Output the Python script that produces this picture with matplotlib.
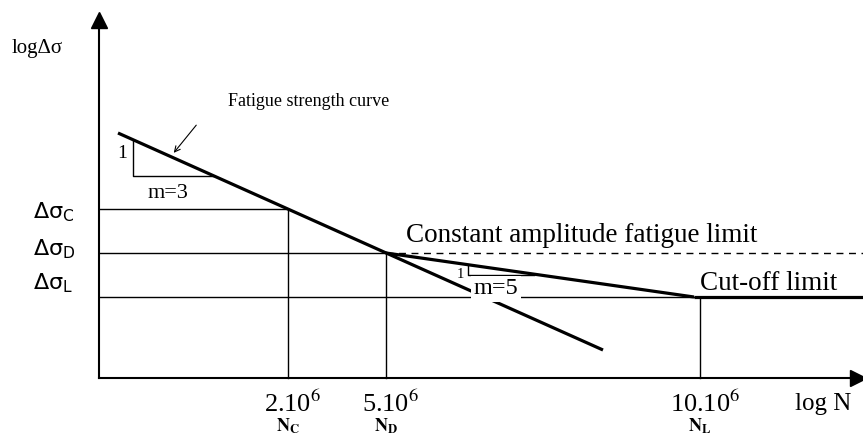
import matplotlib.pyplot as plt

''' schematic fatigue strength curve (log N vs log delta sigma)
axis units are arbitrary, the picture is not to scale
'''

# cycle counts marked on the N axis
n_names = ['C', 'D', 'L']
n_labels = ['2.10$^6$', '5.10$^6$', '10.10$^6$']
n_pos = [1.89, 2.87, 6.01]

# stress range levels on the sigma axis
ds_names = ['C', 'D', 'L']
ds_pos = [1.69, 1.25, 0.81]

# fatigue curve pieces
m3_x = [0.19, 5.04]
m3_y = [2.45, 0.28]
m5_x = [2.87, 5.95]
m5_y = [1.25, 0.81]
cut_x = [5.95, 7.70]
cut_y = [0.81, 0.81]

# slope triangles (corner x, corner y, end x of the horizontal leg)
tri3 = (0.34, 2.02, 1.15)
tri5 = (3.69, 1.03, 4.35)

X_MAX, Y_MAX = 7.64, 3.78
X_MIN, Y_MIN = -0.99, -0.59


def curve_y(x, xs, ys):
	slope = (ys[1] - ys[0]) / (xs[1] - xs[0])
	return ys[0] + slope * (x - xs[0])


def main():
	plt.rcParams['mathtext.fontset'] = 'stix'
	serif = 'Liberation Serif'
	fig = plt.figure(figsize=(8.63, 4.37), dpi=100)
	ax = fig.add_axes([0, 0, 1, 1])
	ax.set_xlim(X_MIN, X_MAX)
	ax.set_ylim(Y_MIN, Y_MAX)
	ax.axis('off')

	# axes with arrow heads
	ax.plot([0, 0], [0, 3.55], color='black', lw=1.5, zorder=3)
	ax.plot([0, 7.55], [0, 0], color='black', lw=1.5, zorder=3)
	ax.plot([0], [3.58], marker='^', color='black', markersize=11, zorder=4)
	ax.plot([7.59], [0], marker='>', color='black', markersize=11, zorder=4, clip_on=False)

	# reference lines
	ax.plot([0, n_pos[0]], [ds_pos[0]] * 2, color='black', lw=1.0)
	ax.plot([0, n_pos[1]], [ds_pos[1]] * 2, color='black', lw=1.0)
	ax.plot([0, n_pos[2]], [ds_pos[2]] * 2, color='black', lw=1.0)
	ax.plot([n_pos[1], X_MAX], [ds_pos[1]] * 2, color='black', lw=1.0,
		linestyle=(0, (5, 4)))
	for x, y in zip(n_pos, ds_pos):
		ax.plot([x, x], [0, y], color='black', lw=1.0)

	# curves
	ax.plot(m3_x, m3_y, color='black', lw=2.3, solid_capstyle='butt')
	ax.plot(m5_x, m5_y, color='black', lw=2.3, solid_capstyle='butt')
	ax.plot(cut_x, cut_y, color='black', lw=2.3, solid_capstyle='butt')

	# slope triangles
	x0, y0, x1 = tri3
	ax.plot([x0, x0, x1], [curve_y(x0, m3_x, m3_y), y0, y0], color='black', lw=1.0)
	x0, y0, x1 = tri5
	ax.plot([x0, x0, x1], [curve_y(x0, m5_x, m5_y), y0, y0], color='black', lw=1.0)

	# texts
	ax.text(-0.87, 3.29, 'log\u0394\u03c3', family=serif, fontsize=15, va='center')
	ax.text(1.29, 2.76, 'Fatigue strength curve', family=serif, fontsize=13, va='center')
	ax.annotate('', xy=(0.73, 2.23), xytext=(0.99, 2.55),
		arrowprops=dict(arrowstyle='->', lw=0.8, color='black'))
	ax.text(0.23, 2.25, '1', family=serif, fontsize=14, ha='center', va='center')
	ax.text(0.69, 1.85, 'm=3', family=serif, fontsize=16, ha='center', va='center')
	ax.text(3.61, 1.03, '1', family=serif, fontsize=10.5, ha='center', va='center')
	ax.text(3.97, 0.89, 'm=5', family=serif, fontsize=17.5, ha='center', va='center',
		zorder=5, bbox=dict(facecolor='white', edgecolor='none', pad=1.5))
	ax.text(3.07, 1.43, 'Constant amplitude fatigue limit', family=serif, fontsize=19.5,
		va='center', zorder=5)
	ax.text(6.01, 0.95, 'Cut-off limit', family=serif, fontsize=19.5, va='center',
		zorder=5)

	for name, y in zip(ds_names, [1.66, 1.29, 0.95]):
		ax.text(-0.66, y, '\u0394\u03c3$_\\mathrm{' + name + '}$',
			family='DejaVu Sans', math_fontfamily='dejavusans', fontsize=16,
			va='center')

	for name, label, x in zip(n_names, n_labels, n_pos):
		ax.text(x + 0.05, -0.26, label, family=serif, fontsize=19,
			ha='center', va='center')
		ax.text(x, -0.48, '$\\mathbf{N}_{\\mathbf{' + name + '}}$', fontsize=13,
			ha='center', va='center')
	ax.text(7.24, -0.26, 'log N', family=serif, fontsize=18, ha='center', va='center')

	fig.savefig('out.png', dpi=100)


if __name__ == "__main__":
	main()
